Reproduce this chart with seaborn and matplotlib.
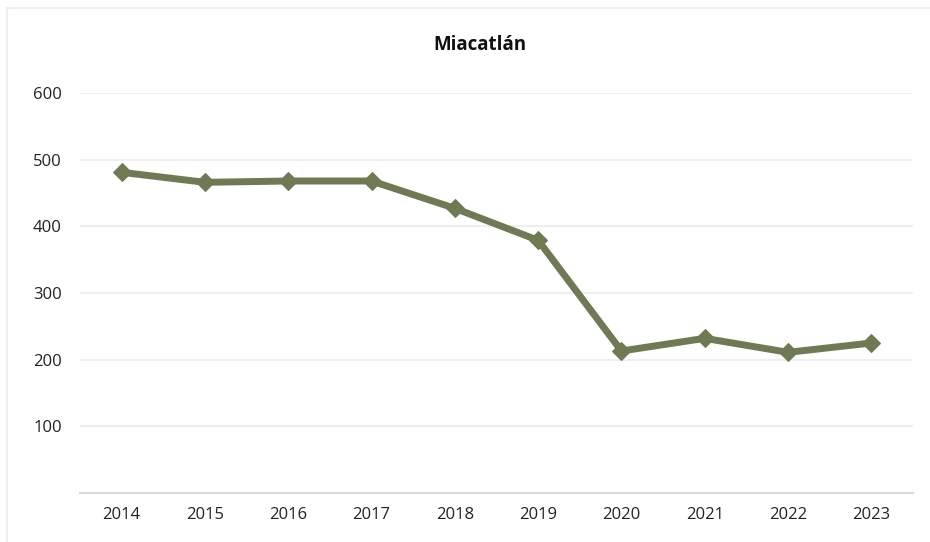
import matplotlib
matplotlib.use("Agg")
import matplotlib.pyplot as plt
import seaborn as sns
import pandas as pd
from matplotlib.patches import Rectangle

years = ["2014", "2015", "2016", "2017", "2018", "2019", "2020", "2021", "2022", "2023"]
values = [481, 466, 468, 468, 427, 379, 213, 232, 211, 225]
yticks = [100, 200, 300, 400, 500, 600]
title = "Miacatlán"

sns.set_theme(style="white")
plt.rcParams['font.family'] = ['Open Sans', 'DejaVu Sans']

df = pd.DataFrame({"year": years, "value": values})

fig = plt.figure(figsize=(9.3, 5.42), dpi=100)
fig.patches.append(Rectangle((13/1860, -0.05), 1.05, (534/542) + 0.05, transform=fig.transFigure,
                             fill=False, edgecolor="#eeeeee", linewidth=1.6))
ax = fig.add_axes([80/930, 49/542, 833/930, 400/542])

color = "#6f7a55"
sns.lineplot(data=df, x="year", y="value", ax=ax, color=color, linewidth=5,
             marker="D", markersize=9, markeredgecolor=color, sort=False)

ax.set_xlim(-0.5, len(years) - 0.5)
ax.set_ylim(0, 600)
ax.set_yticks(yticks)
ax.set_yticklabels([str(t) for t in yticks])
for t in yticks:
    ax.axhline(t, color="#eeeeee", linewidth=1.3, zorder=0)
ax.set_xlabel("")
ax.set_ylabel("")
for s in ["top", "right", "left"]:
    ax.spines[s].set_visible(False)
ax.spines["bottom"].set_color("#d9d9d9")
ax.spines["bottom"].set_linewidth(1.5)
ax.tick_params(axis="both", length=0, labelsize=12, colors="#222222", pad=10)
ax.tick_params(axis="y", pad=13)
ax.set_facecolor("none")

fig.text(0.5165, 1 - 45/542, title, ha="center", va="center", fontsize=13.5,
         fontweight="bold", color="#111111")

fig.savefig("out.png", dpi=100, facecolor="white")
